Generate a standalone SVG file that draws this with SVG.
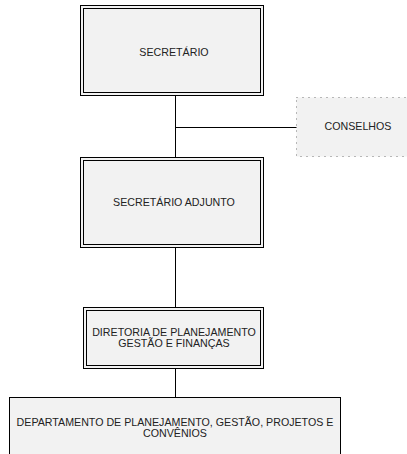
<svg xmlns="http://www.w3.org/2000/svg" width="407" height="454" viewBox="0 0 407 454">
<style>
.box{fill:#f2f2f2;stroke:#000;stroke-width:1}
.inner{fill:none;stroke:#000;stroke-width:1}
.dot{fill:#f2f2f2;stroke:#777;stroke-width:1;stroke-dasharray:1 5}
.conn{fill:none;stroke:#000;stroke-width:1}
text{font-family:"Liberation Sans",Arial,sans-serif;font-size:10.67px;fill:#222;text-anchor:middle}
</style>
<rect width="407" height="454" fill="#fff"/>
<g id="connectors">
<line class="conn" x1="175.5" y1="96" x2="175.5" y2="157"/>
<line class="conn" x1="175.5" y1="127.5" x2="297" y2="127.5"/>
<line class="conn" x1="175.5" y1="247" x2="175.5" y2="307"/>
<line class="conn" x1="175.5" y1="368" x2="175.5" y2="397"/>
</g>
<g id="secretario">
<rect class="box" x="80.5" y="5.5" width="183" height="90"/>
<rect class="inner" x="83.5" y="8.5" width="177" height="84"/>
<text x="174" y="55.5">SECRETÁRIO</text>
</g>
<g id="conselhos">
<rect class="dot" x="296.5" y="97.5" width="120" height="59"/>
<text x="358" y="130">CONSELHOS</text>
</g>
<g id="secretario-adjunto">
<rect class="box" x="80.5" y="157.5" width="183" height="90"/>
<rect class="inner" x="83.5" y="160.5" width="177" height="84"/>
<text x="174" y="205.5">SECRETÁRIO ADJUNTO</text>
</g>
<g id="diretoria">
<rect class="box" x="83.5" y="307.5" width="180" height="61"/>
<rect class="inner" x="86.5" y="310.5" width="174" height="55"/>
<text x="174" y="335.5">DIRETORIA DE PLANEJAMENTO</text>
<text x="174" y="347">GESTÃO E FINANÇAS</text>
</g>
<g id="departamento">
<rect class="box" x="9.5" y="397.5" width="331" height="70"/>
<text x="175" y="425.5">DEPARTAMENTO DE PLANEJAMENTO, GESTÃO, PROJETOS E</text>
<text x="175" y="437">CONVÊNIOS</text>
</g>
</svg>
